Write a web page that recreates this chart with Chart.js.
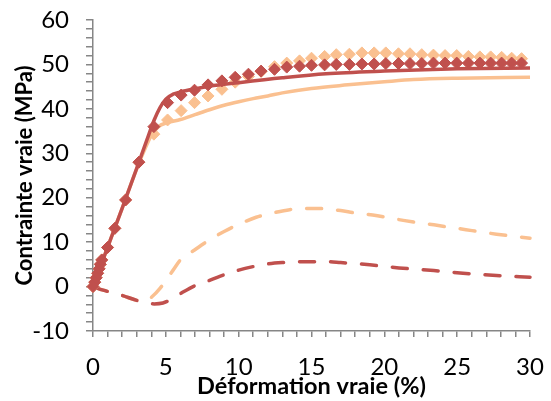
<!DOCTYPE html>
<html>
<head>
<meta charset="utf-8">
<script src="https://cdn.jsdelivr.net/npm/chart.js@4.4.1/dist/chart.umd.min.js"></script>
<style>
  html, body { margin: 0; padding: 0; background: #fff; }
  canvas { display: block; }
</style>
</head>
<body>
<canvas id="graficaContrainte" width="551" height="401"></canvas>
<script>
// couleurs
const ROUGE = '#C0504D';
const ORANGE = '#FAC090';
const AXE = '#868686';

// -----------------------------
// DONNEES
// -----------------------------

// essais (losanges), deformation en %
const defEssai = [0, 0.12, 0.22, 0.32, 0.42, 0.5, 0.6, 1.0, 1.5, 2.24, 3.15, 4.18, 5.12, 6.05, 6.97, 7.9, 8.85, 9.76, 10.67, 11.54, 12.46,
  13.3, 14.18, 15.0, 15.9, 16.7, 17.6, 18.46, 19.3, 20.1, 20.97, 21.76, 22.57, 23.37, 24.17, 24.97, 25.77, 26.56, 27.3, 28.05, 28.74, 29.42];
const contrRougeEssai = [0, 1, 2, 3, 4, 5, 6, 8.8, 13.1, 19.5, 28.0, 36.0, 41.4, 43.1, 44.2, 45.4, 46.3, 47.1, 47.8, 48.5, 48.9,
  49.4, 49.6, 49.8, 49.9, 50.0, 50.0, 50.1, 50.1, 50.2, 50.2, 50.2, 50.2, 50.3, 50.3, 50.3, 50.3, 50.3, 50.3, 50.3, 50.3, 50.3];
const contrOrangeEssai = [0, 1, 2, 3, 4, 5, 6, 8.8, 13.1, 19.5, 28.0, 34.3, 37.5, 39.6, 41.4, 42.9, 44.4, 46.0, 47.3, 48.4, 49.5,
  50.3, 50.8, 51.4, 51.8, 52.2, 52.3, 52.6, 52.6, 52.6, 52.4, 52.4, 52.2, 52.1, 52.0, 52.0, 51.8, 51.7, 51.7, 51.6, 51.4, 51.3];

// modele, trait plein
const defRougeModele = [0, 1, 2, 3, 3.7, 4.2, 4.6, 5, 5.5, 6, 7, 8, 10, 13, 16, 20, 25, 30];
const contrRougeModele = [0, 8.8, 17.6, 26.6, 33, 37.5, 40.3, 42.2, 43.3, 43.8, 44.5, 45.1, 45.9, 47, 47.9, 48.5, 49, 49.2];
const defOrangeModele = [0, 1, 2, 3, 3.5, 4, 4.5, 5, 6, 7, 8, 9, 10, 11, 12, 13, 15, 17.5, 20, 22, 25, 30];
const contrOrangeModele = [0, 8.8, 17.6, 26.5, 30.5, 34, 36, 36.8, 37.6, 38.7, 39.8, 40.8, 41.6, 42.3, 42.9, 43.6, 44.6, 45.4, 46.1, 46.6, 46.9, 47.1];

// pointilles
const defRougeTiret = [0, 0.7, 2, 3, 3.6, 4.2, 4.8, 5.3, 6.1, 7, 8, 8.7, 10, 11, 12, 13, 14.5, 16, 17, 19, 21, 23.4, 25.4, 27.7, 30];
const contrRougeTiret = [0, -0.8, -2.0, -3.1, -3.6, -3.9, -3.7, -3.0, -1.4, 0.2, 1.4, 2.3, 3.7, 4.5, 5.1, 5.4, 5.6, 5.6, 5.4, 4.9, 4.2, 3.6, 3.0, 2.5, 2.1];
const defOrangeTiret = [0, 0.7, 2, 3, 3.6, 4.05, 4.6, 5.5, 6, 7, 7.8, 9, 10, 11.2, 12.4, 13.5, 15, 16, 17, 18, 19.2, 21.3, 23.4, 25.6, 27.7, 30];
const contrOrangeTiret = [0, -0.8, -2.0, -3.1, -3.3, -2.3, -0.4, 3.7, 6.0, 8.3, 10.1, 12.4, 14.0, 15.6, 16.6, 17.3, 17.6, 17.5, 17.1, 16.6, 16.1, 14.9, 13.9, 12.8, 11.8, 10.9];

function pts(xs, ys) {
  return xs.map((x, i) => ({ x: x, y: ys[i] }));
}

const POLICE = 'Lato, "Open Sans", sans-serif';

const ligne = (xs, ys, couleur, tirets) => ({
  data: pts(xs, ys),
  showLine: true,
  borderColor: couleur,
  backgroundColor: couleur,
  borderWidth: 3.5,
  borderDash: tirets ? [15, 16] : [],
  borderCapStyle: tirets ? 'round' : 'butt',
  pointRadius: 0,
  cubicInterpolationMode: 'monotone',
  fill: false,
  clip: false
});

const losanges = (xs, ys, couleur) => ({
  data: pts(xs, ys),
  showLine: false,
  pointStyle: 'rectRot',
  pointRadius: 6,
  pointBackgroundColor: couleur,
  pointBorderColor: couleur,
  pointBorderWidth: 1,
  clip: false
});

// le premier jeu est dessine au-dessus
const datasets = [
  losanges(defEssai, contrRougeEssai, ROUGE),
  ligne(defRougeModele, contrRougeModele, ROUGE, false),
  losanges(defEssai, contrOrangeEssai, ORANGE),
  ligne(defOrangeModele, contrOrangeModele, ORANGE, false),
  ligne(defRougeTiret, contrRougeTiret, ROUGE, true),
  ligne(defOrangeTiret, contrOrangeTiret, ORANGE, true)
];

new Chart(document.getElementById('graficaContrainte'), {
  type: 'scatter',
  data: { datasets: datasets },
  options: {
    responsive: false,
    animation: false,
    layout: { padding: { top: 20, right: 21, left: 0, bottom: 0 } },
    plugins: { legend: { display: false }, tooltip: { enabled: false } },
    scales: {
      x: {
        type: 'linear', min: 0, max: 30,
        border: { color: AXE, width: 1.5 },
        grid: { drawOnChartArea: false, tickLength: 6, color: AXE, lineWidth: 1.5 },
        ticks: {
          stepSize: 1, autoSkip: false, maxRotation: 0, padding: 16,
          callback: v => (v % 5 === 0 ? v : ''),
          color: '#000', font: { family: POLICE, size: 24 }
        },
        title: {
          display: true, text: 'Déformation vraie (%)', color: '#000', padding: 0,
          font: { family: POLICE, size: 23.5, weight: 'bold' }
        },
        afterFit: s => { s.height = 70; s.paddingLeft = 0; s.paddingRight = 0; }
      },
      y: {
        type: 'linear', min: -10, max: 60,
        border: { color: AXE, width: 1.5 },
        grid: { drawOnChartArea: false, tickLength: 7, color: AXE, lineWidth: 1.5 },
        ticks: {
          stepSize: 2, autoSkip: false, padding: 17,
          callback: v => (v % 10 === 0 ? v : ''),
          color: '#000', font: { family: POLICE, size: 24 }
        },
        title: {
          display: true, text: 'Contrainte vraie (MPa)', color: '#000', padding: { top: 12, bottom: 0 },
          font: { family: POLICE, size: 22, weight: 'bold' }
        },
        afterFit: s => { s.width = 93; s.paddingTop = 0; s.paddingBottom = 0; }
      }
    }
  }
});
</script>
</body>
</html>
